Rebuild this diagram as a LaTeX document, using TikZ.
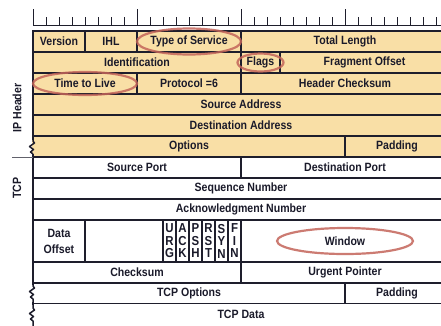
\documentclass[tikz,border=0pt]{standalone}
\usepackage{fontspec}
\setmainfont{Liberation Sans}[FakeStretch=0.88]
\usetikzlibrary{positioning}
\definecolor{hdrfill}{HTML}{F9DFA6}
\definecolor{gridline}{HTML}{1E1E2C}
\definecolor{labeltext}{HTML}{1A1A2A}
\definecolor{ringred}{HTML}{C4655A}

\begin{document}
\begin{tikzpicture}[x=1pt, y=-1pt,
  ipcell/.style={draw=gridline, line width=1.5pt, fill=hdrfill, inner sep=0pt, outer sep=0pt, minimum height=21pt, align=center, text=labeltext, font=\fontsize{12}{16}\selectfont\bfseries},
  tcpcell/.style={ipcell, fill=white},
  flagcell/.style={tcpcell, minimum width=13pt, minimum height=42pt, font=\fontsize{13}{12.5}\selectfont\bfseries},
  ring/.style={draw=ringred, line width=2.2pt, opacity=0.85},
  tick/.style={draw=gridline, line width=1pt},
  breakline/.style={draw=gridline, line width=1.5pt, line join=round},
  sidelabel/.style={rotate=90, text=labeltext, font=\fontsize{12}{13}\selectfont\bfseries}
]
  \useasboundingbox (0,0) rectangle (441,325);
  \clip (0,0) rectangle (441,325);

  % bit ruler
  \draw[tick] (33,25) -- (449,25);
  \foreach \b in {0,...,32} \draw[tick] ({33+13*\b},25) -- ++(0,-8);
  \foreach \b in {0,8,...,32} \draw[tick] ({33+13*\b},25) -- ++(0,-16);

  % IP header
  \node[ipcell, minimum width=52pt, anchor=north west] (ver) at (33,31) {Version};
  \node[ipcell, minimum width=52pt, right=0pt of ver] (ihl) {IHL};
  \node[ipcell, minimum width=104pt, right=0pt of ihl] (tos) {Type of Service};
  \node[ipcell, minimum width=208pt, right=0pt of tos] (totlen) {Total Length};

  \node[ipcell, minimum width=208pt, anchor=north west] (ident) at (ver.south west) {Identification};
  \node[ipcell, minimum width=39pt, right=0pt of ident] (flags) {Flags};
  \node[ipcell, minimum width=169pt, right=0pt of flags] (fragoff) {Fragment Offset};

  \node[ipcell, minimum width=104pt, anchor=north west] (ttl) at (ident.south west) {Time to Live};
  \node[ipcell, minimum width=104pt, right=0pt of ttl] (proto) {Protocol =6};
  \node[ipcell, minimum width=208pt, right=0pt of proto] (hdrsum) {Header Checksum};

  \node[ipcell, minimum width=416pt, anchor=north west] (srcaddr) at (ttl.south west) {Source Address};
  \node[ipcell, minimum width=416pt, anchor=north west] (dstaddr) at (srcaddr.south west) {Destination Address};

  \node[ipcell, minimum width=312pt, anchor=north west] (opts) at (dstaddr.south west) {Options};
  \node[ipcell, minimum width=104pt, right=0pt of opts] (ippad) {Padding};

  % TCP header
  \node[tcpcell, minimum width=208pt, anchor=north west] (srcport) at (opts.south west) {Source Port};
  \node[tcpcell, minimum width=208pt, right=0pt of srcport] (dstport) {Destination Port};

  \node[tcpcell, minimum width=416pt, anchor=north west] (seqnum) at (srcport.south west) {Sequence Number};
  \node[tcpcell, minimum width=416pt, anchor=north west] (acknum) at (seqnum.south west) {Acknowledgment Number};

  \node[tcpcell, minimum width=52pt, minimum height=42pt, anchor=north west] (doff) at (acknum.south west) {Data\\Offset};
  \node[tcpcell, minimum width=78pt, minimum height=42pt, right=0pt of doff] (resv) {};
  \node[flagcell, right=0pt of resv] (urg) {U\\R\\G};
  \node[flagcell, right=0pt of urg] (ack) {A\\C\\K};
  \node[flagcell, right=0pt of ack] (psh) {P\\S\\H};
  \node[flagcell, right=0pt of psh] (rst) {R\\S\\T};
  \node[flagcell, right=0pt of rst] (syn) {S\\Y\\N};
  \node[flagcell, right=0pt of syn] (fin) {F\\I\\N};
  \node[tcpcell, minimum width=208pt, minimum height=42pt, right=0pt of fin] (window) {Window};

  \node[tcpcell, minimum width=208pt, anchor=north west] (cksum) at (doff.south west) {Checksum};
  \node[tcpcell, minimum width=208pt, right=0pt of cksum] (urgptr) {Urgent Pointer};

  \node[tcpcell, minimum width=312pt, anchor=north west] (tcpopts) at (cksum.south west) {TCP Options};
  \node[tcpcell, minimum width=104pt, right=0pt of tcpopts] (tcppad) {Padding};

  \node[tcpcell, draw=none, minimum width=416pt, anchor=north west] (tcpdata) at (tcpopts.south west) {TCP Data};

  % broken left edge
  \fill[hdrfill] (31.5,140) rectangle (34.6,154);
  \draw[breakline] (33,140) -- (33,141) -- ++(1.5,2) -- ++(-5,3.5) -- ++(4,3) -- ++(-3,2.5) -- ++(2.5,2) -- (33,154);
  \fill[white] (31.5,285) rectangle (34.6,302);
  \draw[breakline] (33,285) -- (33,286) -- ++(1.5,2) -- ++(-5,3.5) -- ++(4,3) -- ++(-3,2.5) -- ++(2.5,2) -- (33,302);
  \draw[breakline] (tcpdata.north west) -- (33,308) -- ++(1.5,2) -- ++(-5,3.5) -- ++(4,3) -- ++(-3,2.5) -- ++(2.5,2) -- (33,330);

  % side labels
  \draw[gridline!70, line width=1pt] (opts.south west) -- ++(-21,0);
  \node[sidelabel] (iplabel) at (17,108) {IP Header};
  \node[sidelabel] (tcplabel) at (17,188) {TCP};

  % highlighted fields
  \draw[ring] (tos.center) ellipse [x radius=52, y radius=13];
  \draw[ring] (flags.center) ellipse [x radius=23, y radius=9];
  \draw[ring] (ttl.center) ellipse [x radius=52, y radius=11.5];
  \draw[ring] (window.center) ellipse [x radius=68, y radius=13];
\end{tikzpicture}
\end{document}
